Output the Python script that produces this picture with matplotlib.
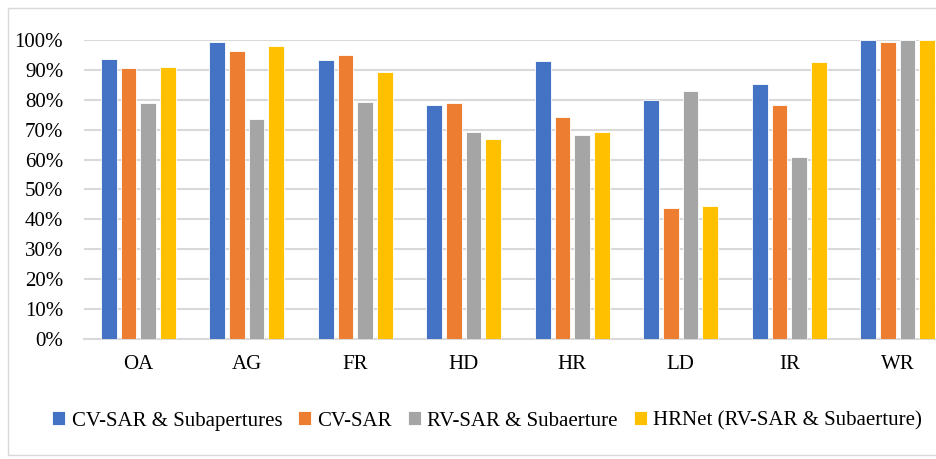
import numpy as np
import matplotlib.pyplot as plt
from matplotlib.patches import Rectangle

#------------------------------------------------------------------------------#

categories = ['OA', 'AG', 'FR', 'HD', 'HR', 'LD', 'IR', 'WR']

cv_sar_sub  = [93.7, 99.4, 93.4, 78.4, 92.9, 80.0, 85.3, 100.0]
cv_sar      = [90.7, 96.4, 95.1, 79.0, 74.2, 43.8, 78.3, 99.4]
rv_sar_sub  = [78.9, 73.6, 79.3, 69.4, 68.4, 83.1, 60.9, 100.0]
hrnet_rv    = [91.0, 98.1, 89.4, 66.9, 69.3, 44.5, 92.7, 100.0]

series_names = ['CV-SAR & Subapertures', 'CV-SAR', 'RV-SAR & Subaerture',
                'HRNet (RV-SAR & Subaerture)']
colors = ['#4472C4', '#ED7D31', '#A5A5A5', '#FFC000']

yticks = np.arange(0, 101, 10)

#------------------------------------------------------------------------------#

plt.rcParams['font.family'] = ['Liberation Serif', 'DejaVu Serif']

W, H = 936, 459
fig = plt.figure(figsize = (W / 100, H / 100), dpi = 100)

# outer chart border (cropped on the right)
fig.patches.append(Rectangle((8 / W, 4 / H), 1.2, (H - 12) / H,
    transform = fig.transFigure, fill = False, edgecolor = '#d9d9d9', linewidth = 1.0))

ax = fig.add_axes([84 / W, (H - 338.5) / H, 868 / W, 298.2 / H])

x = np.arange(len(categories))
pitch = 0.1815
width = 0.145
for i, (vals, name, c) in enumerate(zip([cv_sar_sub, cv_sar, rv_sar_sub, hrnet_rv],
                                        series_names, colors)):
    ax.bar(x + (i - 1.5) * pitch, vals, width = width, color = c,
        edgecolor = 'white', linewidth = 0.6, label = name, zorder = 3)

ax.set_xlim(-0.5, len(categories) - 0.5)
ax.set_ylim(0, 100)
ax.set_yticks(yticks)
ax.set_yticklabels(['{}%'.format(v) for v in yticks])
ax.set_xticks(x)
ax.set_xticklabels(categories)
ax.tick_params(axis = 'both', length = 0, labelsize = 15, colors = 'black')
ax.tick_params(axis = 'y', pad = 15)
ax.tick_params(axis = 'x', pad = 12)

ax.grid(axis = 'y', color = '#d9d9d9', linewidth = 1.5, zorder = 0)
for s in ['top', 'right', 'left']:
    ax.spines[s].set_visible(False)
ax.spines['bottom'].set_color('#d9d9d9')
ax.spines['bottom'].set_linewidth(1.5)

fig.legend(loc = 'center', bbox_to_anchor = (487 / W, (H - 421) / H),
    ncol = 4, frameon = False, fontsize = 15, handlelength = 0.65,
    handleheight = 0.65, handletextpad = 0.3, columnspacing = 0.75)

plt.savefig('out.png', dpi = 100)
